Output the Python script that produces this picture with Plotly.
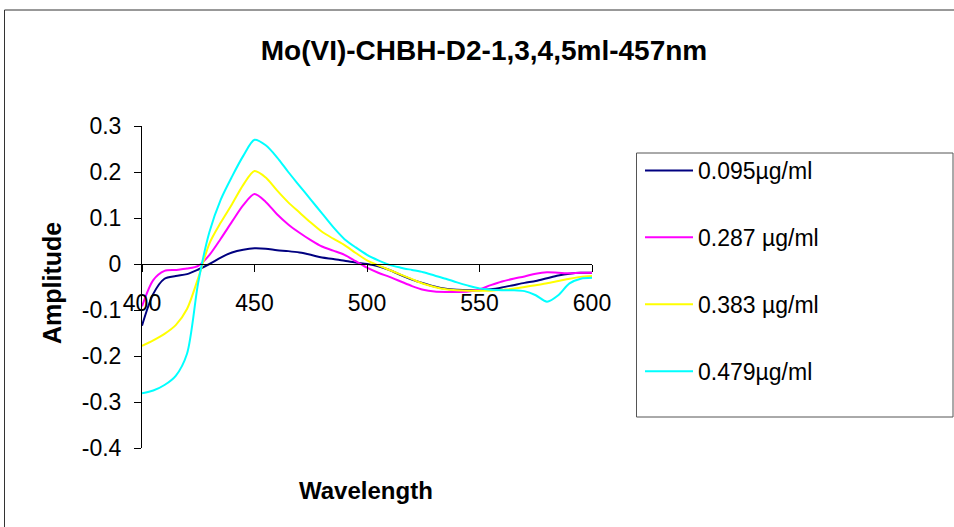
import plotly.graph_objects as go

wavelength = [400, 405, 410, 415, 420, 425, 430, 435, 440, 445, 450, 455, 460, 465, 470,
              475, 480, 485, 490, 495, 500, 505, 510, 515, 520, 525, 530, 535, 540, 545,
              550, 555, 560, 565, 570, 575, 580, 585, 590, 595, 600]

s_0095 = [-0.134, -0.065, -0.032, -0.026, -0.022, -0.012, 0.000, 0.014, 0.025, 0.031, 0.034,
          0.033, 0.030, 0.028, 0.025, 0.020, 0.014, 0.011, 0.007, 0.003, 0.000, -0.005, -0.013,
          -0.024, -0.034, -0.042, -0.049, -0.054, -0.056, -0.057, -0.057, -0.055, -0.051,
          -0.046, -0.041, -0.037, -0.031, -0.025, -0.021, -0.019, -0.019]

s_0287 = [-0.092, -0.035, -0.015, -0.013, -0.010, -0.004, 0.020, 0.055, 0.092, 0.128, 0.152,
          0.135, 0.108, 0.086, 0.068, 0.052, 0.038, 0.029, 0.020, 0.006, -0.008, -0.019, -0.028,
          -0.038, -0.048, -0.056, -0.060, -0.061, -0.061, -0.060, -0.055, -0.046, -0.038,
          -0.032, -0.027, -0.021, -0.018, -0.019, -0.020, -0.019, -0.019]

s_0383 = [-0.178, -0.166, -0.152, -0.133, -0.098, -0.030, 0.045, 0.090, 0.130, 0.172, 0.202,
          0.188, 0.160, 0.134, 0.112, 0.090, 0.070, 0.055, 0.041, 0.024, 0.008, -0.003, -0.013,
          -0.023, -0.033, -0.043, -0.050, -0.055, -0.057, -0.058, -0.058, -0.058, -0.056,
          -0.054, -0.050, -0.046, -0.042, -0.037, -0.032, -0.028, -0.026]

s_0479 = [-0.281, -0.275, -0.263, -0.243, -0.195, -0.040, 0.070, 0.140, 0.190, 0.235, 0.270,
          0.258, 0.232, 0.200, 0.170, 0.140, 0.110, 0.080, 0.054, 0.036, 0.020, 0.008, -0.002,
          -0.008, -0.013, -0.018, -0.025, -0.032, -0.040, -0.047, -0.053, -0.056, -0.057,
          -0.057, -0.059, -0.068, -0.082, -0.068, -0.042, -0.032, -0.030]

series_names = ["0.095µg/ml", "0.287 µg/ml", "0.383 µg/ml", "0.479µg/ml"]
series_values = [s_0095, s_0287, s_0383, s_0479]
series_colors = ["#000080", "#FF00FF", "#FFFF00", "#00FFFF"]

x_ticks = [400, 450, 500, 550, 600]
y_ticks = [-0.4, -0.3, -0.2, -0.1, 0, 0.1, 0.2, 0.3]
y_tick_text = ["-0.4", "-0.3", "-0.2", "-0.1", "0", "0.1", "0.2", "0.3"]

FONT = "Liberation Sans, Arial, sans-serif"
W, H = 954, 527
L, R, T, B = 142, 362, 126, 79
pw, ph = W - L - R, H - T - B


def px_x(p):
    return (p - L) / pw


def px_y(p):
    return (H - B - p) / ph


fig = go.Figure()
for i, (name, vals, col) in enumerate(zip(series_names, series_values, series_colors)):
    fig.add_trace(go.Scatter(
        x=wavelength, y=vals, mode="lines", name=name,
        line=dict(color=col, width=2, shape="spline", smoothing=0.8),
        legendgroup=f"g{i}",
    ))

fig.update_layout(
    width=W, height=H,
    margin=dict(l=L, r=R, t=T, b=B, autoexpand=False),
    paper_bgcolor="white", plot_bgcolor="white",
    font=dict(family=FONT, color="black", size=23),
    title=dict(text="<b>Mo(VI)-CHBH-D2-1,3,4,5ml-457nm</b>", x=484 / W, xanchor="center",
               y=1 - 50 / H, yanchor="middle", yref="container",
               font=dict(size=28, family=FONT, color="black")),
    xaxis=dict(range=[400, 600], tickvals=x_ticks, ticks="outside", ticklen=7,
               tickcolor="black", showline=True, linecolor="black", linewidth=1,
               showgrid=False, zeroline=False, anchor="free", position=4 / 7,
               ticklabelstandoff=11, tickfont=dict(size=23)),
    yaxis=dict(range=[-0.4, 0.3], tickvals=y_ticks, ticktext=y_tick_text, ticks="outside",
               ticklen=7, tickcolor="black", showline=True, linecolor="black", linewidth=1,
               showgrid=False, zeroline=False, ticklabelstandoff=8, tickfont=dict(size=23)),
    legend=dict(x=px_x(640), y=px_y(149), xanchor="left", yanchor="top",
                borderwidth=0, bgcolor="rgba(0,0,0,0)", tracegroupgap=34,
                font=dict(size=23, family=FONT), itemwidth=48),
    showlegend=True,
    annotations=[
        dict(text="<b>Amplitude</b>", textangle=-90, x=px_x(52), y=px_y(283), xref="paper",
             yref="paper", showarrow=False, font=dict(size=25, family=FONT),
             xanchor="center", yanchor="middle"),
        dict(text="<b>Wavelength</b>", x=px_x(366), y=px_y(490), xref="paper", yref="paper",
             showarrow=False, font=dict(size=24, family=FONT),
             xanchor="center", yanchor="middle"),
    ],
    shapes=[
        dict(type="rect", xref="paper", yref="paper", x0=px_x(4.5), x1=px_x(1000),
             y0=px_y(600), y1=px_y(10), line=dict(color="#333333", width=1), layer="below"),
        dict(type="rect", xref="paper", yref="paper", x0=px_x(636.5), x1=px_x(953),
             y0=px_y(417), y1=px_y(153), line=dict(color="#555555", width=1), layer="below"),
    ],
)

fig.write_html("out.html")
